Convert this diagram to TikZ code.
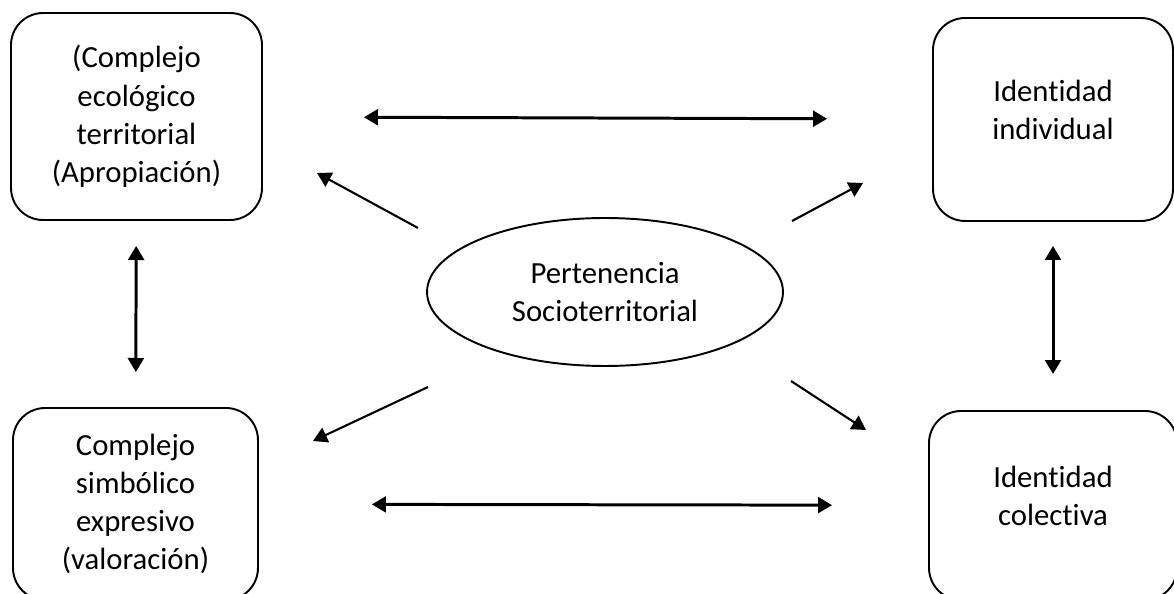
\documentclass[tikz,border=0pt]{standalone}
\usepackage{fontspec}
\setmainfont{Carlito}[Ligatures={NoCommon,NoRare}]
\usepackage{tikz}
\usetikzlibrary{positioning, arrows.meta, shapes.geometric}
\tikzstyle{box} = [rectangle, draw, line width=1.1pt, rounded corners=0.64cm, align=center, font=\fontsize{17.5}{21.8}\selectfont]
\tikzstyle{oval} = [ellipse, draw, line width=1.1pt, align=center, inner sep=0pt, font=\fontsize{17.5}{21.8}\selectfont]
\tikzstyle{dbl} = [line width=1.7pt, {Triangle[length=8pt,width=9pt]}-{Triangle[length=8pt,width=9pt]}]
\tikzstyle{arrow} = [line width=1.2pt, -{Triangle[length=8pt,width=9pt]}]

\begin{document}
\begin{tikzpicture}[x=0.02cm, y=-0.02cm]
                \useasboundingbox (0,0) rectangle (1174,594);
                % Four boxes
                \node[box, minimum width=5.02cm, minimum height=4.14cm] (eco) at (136.5,116.5) {(Complejo\\ecológico\\territorial\\(Apropiación)};
                \node[box, minimum width=4.8cm, minimum height=4.06cm] (indiv) at (1053,119.5) {Identidad\\individual\\[-11pt]\mbox{}};
                \node[box, minimum width=4.9cm, minimum height=3.84cm] (simb) at (135.5,504) {Complejo\\simbólico\\expresivo\\(valoración)};
                \node[box, minimum width=4.96cm, minimum height=3.78cm] (colec) at (1053,505.5) {Identidad\\colectiva\\[-11pt]\mbox{}};
                
                % Central ellipse
                \node[oval, minimum width=7.12cm, minimum height=2.96cm] (pert) at (605,292) {Pertenencia\\Socioterritorial};
                
                % Two-way links
                \draw[dbl, shorten <=2.02cm, shorten >=2.1cm] (eco) -- (indiv);
                \draw[dbl, shorten <=2.26cm, shorten >=1.92cm] (simb) -- (colec);
                \draw[dbl, shorten <=0.5cm, shorten >=0.7cm] (eco) -- (simb);
                \draw[dbl, shorten <=0.48cm, shorten >=0.72cm] (indiv) -- (colec);
                
                % Arrows out of the ellipse
                \coordinate (ecotail) at (418,228);
                \coordinate (ecohead) at (317,173);
                \coordinate (indivtail) at (792,221);
                \coordinate (indivhead) at (863,183);
                \coordinate (simbtail) at (428,387);
                \coordinate (simbhead) at (313,441);
                \coordinate (colectail) at (791,381);
                \coordinate (colechead) at (866,430);
                \draw[arrow] (ecotail) -- (ecohead);
                \draw[arrow] (indivtail) -- (indivhead);
                \draw[arrow] (simbtail) -- (simbhead);
                \draw[arrow] (colectail) -- (colechead);
\end{tikzpicture}
\end{document}
